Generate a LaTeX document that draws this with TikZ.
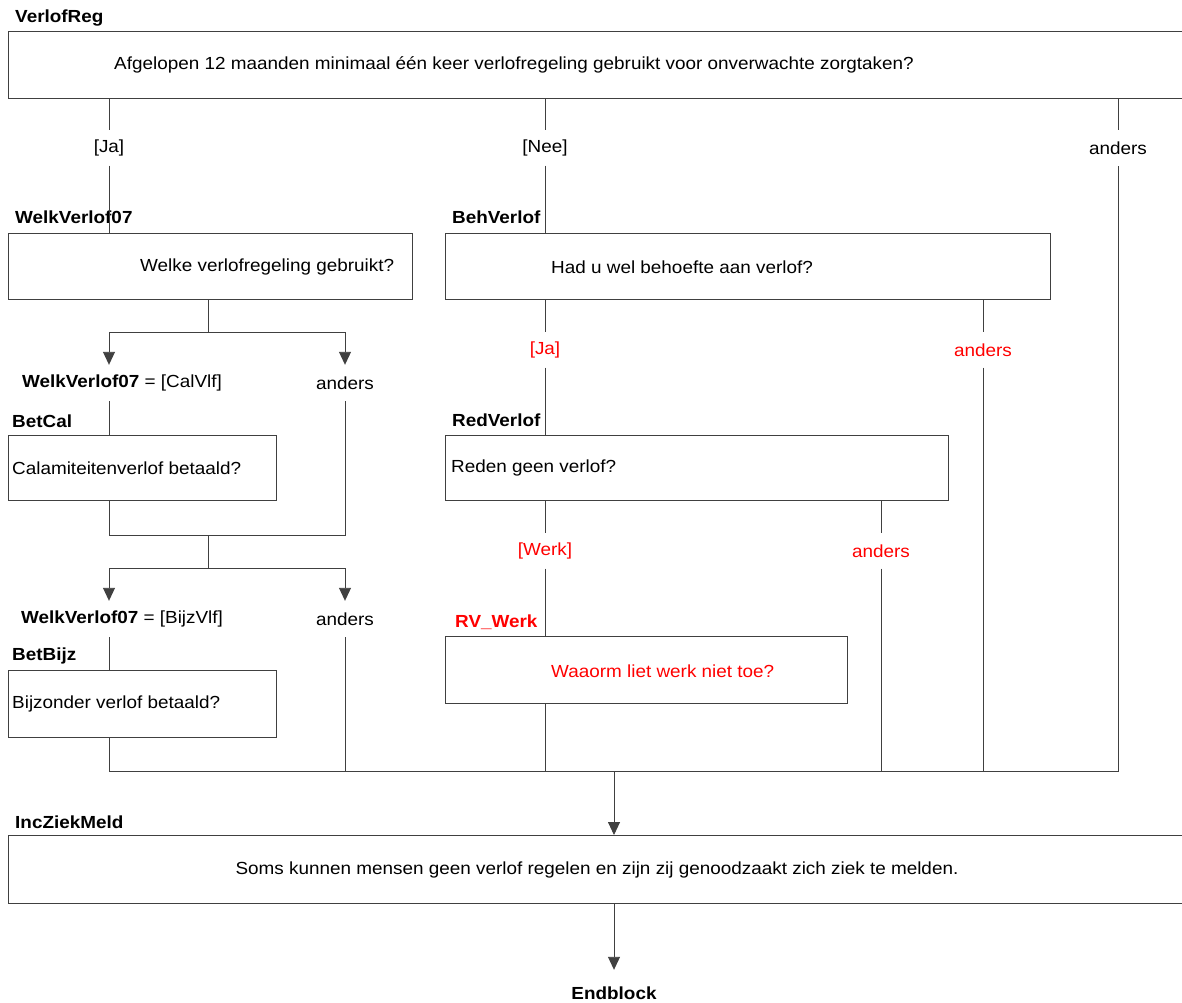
\documentclass[tikz,border=0pt]{standalone}
\usepackage{fontspec}
\setmainfont{Liberation Sans}[FakeStretch=1.08]
\usetikzlibrary{arrows.meta}
\definecolor{linec}{HTML}{404040}
\definecolor{redc}{HTML}{FF0000}
\newcommand{\fsz}{\fontsize{17.5}{20}\selectfont}
\tikzset{
  box/.style={draw=linec, line width=0.9pt, rectangle, inner sep=0pt, anchor=north west},
  qtext/.style={font=\fsz, anchor=west, inner sep=0pt},
  ttl/.style={font=\fsz\bfseries, anchor=west, inner sep=0pt},
  lab/.style={font=\fsz, minimum height=35pt, inner sep=0pt},
  conn/.style={draw=linec, line width=0.9pt},
  arr/.style={conn, -{Triangle[width=12pt,length=13pt]}}
}
\begin{document}
\begin{tikzpicture}[x=1pt,y=-1pt]
\useasboundingbox (0,0) rectangle (1182,1002);
% VerlofReg
\node[ttl] (tverlofreg) at (15,18) {VerlofReg};
\node[box, minimum width=1185pt, minimum height=67pt] (verlofreg) at (8,31) {};
\node[qtext] (qverlofreg) at (114,65) {Afgelopen 12 maanden minimaal één keer verlofregeling gebruikt voor onverwachte zorgtaken?};
\node[lab] (lja1) at (109,148) {[Ja]};
\node[lab] (lnee1) at (545,148) {[Nee]};
\node[lab] (landers1) at (1118,148) {anders};
% WelkVerlof07
\node[ttl] (twelk) at (15,217) {WelkVerlof07};
\node[box, minimum width=404pt, minimum height=66pt] (welk) at (8,233) {};
\node[qtext] (qwelk) at (140,267) {Welke verlofregeling gebruikt?};
% BehVerlof
\node[ttl] (tbeh) at (452,217) {BehVerlof};
\node[box, minimum width=605pt, minimum height=66pt] (beh) at (445,233) {};
\node[qtext] (qbeh) at (551,267) {Had u wel behoefte aan verlof?};
% conditions under WelkVerlof07
\node[lab, minimum height=36pt] (lcal) at (122,383) {\textbf{WelkVerlof07} = [CalVlf]};
\node[lab, minimum height=36pt] (landers2) at (345,383) {anders};
% BetCal
\node[ttl] (tbetcal) at (12,421) {BetCal};
\node[box, minimum width=268pt, minimum height=65pt] (betcal) at (8,435) {};
\node[qtext] (qbetcal) at (12,468) {Calamiteitenverlof betaald?};
\node[lab, minimum height=36pt] (lbijz) at (122,619) {\textbf{WelkVerlof07} = [BijzVlf]};
\node[lab, minimum height=36pt] (landers3) at (345,619) {anders};
% BetBijz
\node[ttl] (tbetbijz) at (12,656) {BetBijz};
\node[box, minimum width=268pt, minimum height=67pt] (betbijz) at (8,670) {};
\node[qtext] (qbetbijz) at (12,704) {Bijzonder verlof betaald?};
% red branch
\node[lab, text=redc] (lja2) at (545,350) {[Ja]};
\node[lab, text=redc] (landers4) at (983,350) {anders};
\node[ttl] (tred) at (452,420) {RedVerlof};
\node[box, minimum width=503pt, minimum height=65pt] (red) at (445,435) {};
\node[qtext] (qred) at (451,468) {Reden geen verlof?};
\node[lab, text=redc] (lwerk) at (545,551) {[Werk]};
\node[lab, text=redc] (landers5) at (881,551) {anders};
\node[ttl, text=redc] (trv) at (455,622) {RV\_Werk};
\node[box, minimum width=402pt, minimum height=67pt] (rv) at (445,636) {};
\node[qtext, text=redc] (qrv) at (551,671) {Waaorm liet werk niet toe?};
% IncZiekMeld
\node[ttl] (tinc) at (15,822) {IncZiekMeld};
\node[box, minimum width=1185pt, minimum height=68pt] (inc) at (8,835) {};
\node[font=\fsz, inner sep=0pt] (qinc) at (597,870) {Soms kunnen mensen geen verlof regelen en zijn zij genoodzaakt zich ziek te melden.};
\node[font=\fsz\bfseries, inner sep=0pt, minimum height=46pt] (endblock) at (614,993) {Endblock};
% coordinates
\coordinate (s1) at (208,332);
\coordinate (j1) at (208,535);
\coordinate (s2) at (208,568);
\coordinate (jbot) at (614,771);
% connectors from VerlofReg
\draw[conn] (verlofreg.south -| lja1) -- (lja1.north);
\draw[conn] (lja1.south) -- (welk.north -| lja1);
\draw[conn] (verlofreg.south -| lnee1) -- (lnee1.north);
\draw[conn] (lnee1.south) -- (beh.north -| lnee1);
\draw[conn] (verlofreg.south -| landers1) -- (landers1.north);
% WelkVerlof07 split
\draw[conn] (welk.south -| s1) -- (s1);
\draw[arr] (s1) -| (lcal.north -| lja1);
\draw[arr] (s1) -| (landers2.north);
\draw[conn] (lcal.south -| lja1) -- (betcal.north -| lja1);
\draw[conn] (betcal.south -| lja1) |- (j1);
\draw[conn] (landers2.south) |- (j1);
\draw[conn] (j1) -- (s2);
\draw[arr] (s2) -| (lbijz.north -| lja1);
\draw[arr] (s2) -| (landers3.north);
\draw[conn] (lbijz.south -| lja1) -- (betbijz.north -| lja1);
% BehVerlof branch
\draw[conn] (beh.south -| lja2) -- (lja2.north);
\draw[conn] (lja2.south) -- (red.north -| lja2);
\draw[conn] (beh.south -| landers4) -- (landers4.north);
\draw[conn] (red.south -| lwerk) -- (lwerk.north);
\draw[conn] (lwerk.south) -- (rv.north -| lwerk);
\draw[conn] (red.south -| landers5) -- (landers5.north);
% joins to bottom
\draw[conn] (betbijz.south -| lja1) -- (lja1 |- jbot) -- (landers1 |- jbot) -- (landers1.south);
\draw[conn] (landers3.south) -- (landers3 |- jbot);
\draw[conn] (rv.south -| lwerk) -- (lwerk |- jbot);
\draw[conn] (landers5.south) -- (landers5 |- jbot);
\draw[conn] (landers4.south) -- (landers4 |- jbot);
\draw[arr] (jbot) -- (inc.north -| jbot);
\draw[arr] (inc.south -| jbot) -- (endblock.north);
\end{tikzpicture}
\end{document}
